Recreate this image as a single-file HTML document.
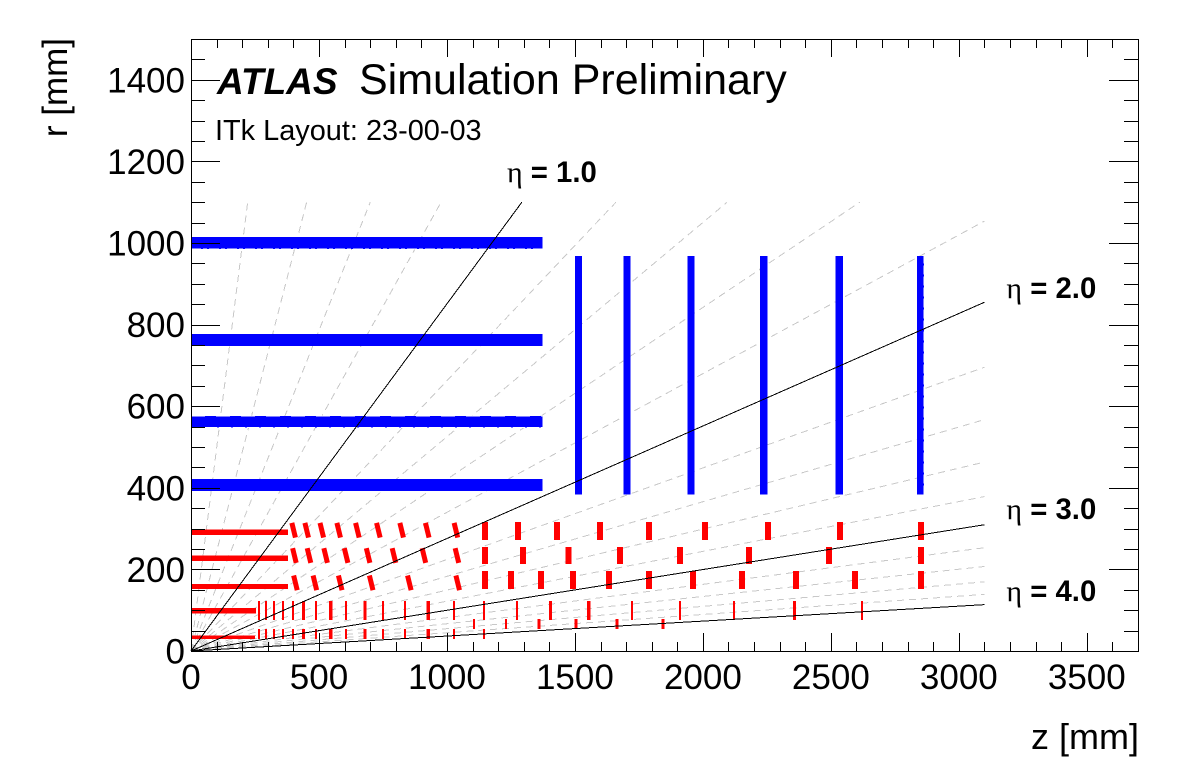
<!DOCTYPE html>
<html lang="en">
<head>
<meta charset="utf-8">
<title>ATLAS ITk Layout</title>
<style>
html,body{margin:0;padding:0;background:#fff;}
body{width:1198px;height:776px;overflow:hidden;}
svg{display:block;font-family:"Liberation Sans",sans-serif;}
</style>
</head>
<body>
<svg id="chart" xmlns="http://www.w3.org/2000/svg" width="1198" height="776" viewBox="0 0 1198 776">
  <rect x="0" y="0" width="1198" height="776" fill="#fff"/>
  <g id="guides"></g>
  <g id="blue"></g>
  <g id="red"></g>
  <g id="eta"></g>
  <g id="axes"></g>
  <text x="217" y="94" font-size="37" font-weight="bold" font-style="italic">ATLAS</text>
  <text x="359" y="94" font-size="43">Simulation Preliminary</text>
  <text x="215" y="140" font-size="28.9">ITk Layout: 23-00-03</text>
  <text x="1139" y="749" font-size="36" text-anchor="end">z [mm]</text>
  <text transform="translate(67,38) rotate(-90)" font-size="35" text-anchor="end">r [mm]</text>
</svg>
<script>
// Axis ranges and ticks
const xRange = [0, 3700];
const yRange = [0, 1500];
const xTickLabels = [0, 500, 1000, 1500, 2000, 2500, 3000, 3500];
const yTickLabels = [0, 200, 400, 600, 800, 1000, 1200, 1400];

// Pseudorapidity lines
const etaMajor = [1.0, 2.0, 3.0, 4.0];
const etaMinor = [0.2, 0.4, 0.6, 0.8, 1.2, 1.4, 1.6, 1.8, 2.2, 2.4, 2.6, 2.8, 3.2, 3.4, 3.6, 3.8];

// Outer tracker (blue): barrel radii and endcap disc positions
const stripBarrelRadii = [407, 562, 762, 1000];
const stripBarrelLength = [1373];
const stripDiscZ = [1514, 1703, 1953, 2238, 2533, 2850];
const stripDiscRange = [383, 968];

// Inner tracker (red): barrel layers (radius, length, thickness in mm)
const pixelBarrelRadii = [34, 99, 158, 227, 291];
const pixelBarrelLengths = [250, 254, 379, 379, 379];
const pixelBarrelThickness = [8, 13, 13, 13, 13];

// Inclined rings
const tiltRadii = [296, 234, 167];
const tiltRow1Z = [401, 452, 511, 577, 650, 732, 823, 923, 1035];
const tiltRow2Z = [404, 461, 526, 606, 692, 793, 910, 1039];
const tiltRow3Z = [408, 484, 583, 704, 853, 1042];

// Outer flat rings
const ringOuterRadii = [294, 234, 174];
const ringOuter1Z = [1149, 1278, 1430, 1598, 1789, 2008, 2254, 2536, 2852];
const ringOuter2Z = [1149, 1297, 1475, 1676, 1910, 2180, 2493, 2852];
const ringOuter3Z = [1149, 1250, 1367, 1492, 1633, 1789, 1961, 2153, 2364, 2594, 2852];

// Inner flat rings
const ringARadius = [99];
const ringAThinZ = [265, 293, 324, 359, 399, 488, 606, 750, 836, 1028, 1145, 1274, 1723, 1911, 2122, 2622];
const ringAThickZ = [440, 546, 679, 927, 1405, 1554, 2358];
const ringBRadius = [42];
const ringBThinZ = [265, 293, 324, 359, 399, 488, 606, 750, 836, 1028, 1145];
const ringBThickZ = [440, 546, 679, 927];
const ringCRadius = [66];
const ringCThinZ = [1106, 1231];
const ringCThickZ = [1360, 1504, 1664, 1844];

// Eta labels
const etaLabelText = ["1.0", "2.0", "3.0", "4.0"];

const X0 = 191, X1 = 1138, Y0 = 651, Y1 = 39;
function xScale(z) { return X0 + (z - xRange[0]) / (xRange[1] - xRange[0]) * (X1 - X0); }
function yScale(r) { return Y0 - (r - yRange[0]) / (yRange[1] - yRange[0]) * (Y0 - Y1); }

const NS = "http://www.w3.org/2000/svg";
function mk(tag, parentId, attrs) {
  const el = document.createElementNS(NS, tag);
  for (const k in attrs) el.setAttribute(k, attrs[k]);
  document.getElementById(parentId).appendChild(el);
  return el;
}

// Guides
function drawEtaLine(parent, eta, stroke, dash, name) {
  const slope = 1 / Math.sinh(eta);
  let z = 3100, r = z * slope;
  if (r > 1100) { r = 1100; z = r / slope; }
  const el = mk("line", parent, {
    x1: xScale(0), y1: yScale(0), x2: xScale(z), y2: yScale(r),
    stroke: stroke, "stroke-width": 1, "shape-rendering": "crispEdges"
  });
  if (dash) el.setAttribute("stroke-dasharray", dash);
  
  
}
etaMinor.forEach(function (e) {
  drawEtaLine("guides", e, "#c8c8c8", "7 5", "eta-guide-line");
});

// Rect helper in pixel space from data extents
function dataRect(parent, z0, z1, r0, r1, fill, name) {
  const x0 = xScale(z0), x1 = xScale(z1), y0 = yScale(r1), y1 = yScale(r0);
  const el = mk("rect", parent, {
    x: x0, y: y0, width: x1 - x0, height: y1 - y0, fill: fill, "shape-rendering": "crispEdges"
  });
  
  
}
const BLUE = "#0000ff", RED = "#ff0000";

// Rough module edges along a barrel or disc
function roughEdge(z0, r0, z1, r1, width, dash, color) {
  const el = mk("line", "blue", {
    x1: xScale(z0), y1: yScale(r0), x2: xScale(z1), y2: yScale(r1),
    stroke: color, "stroke-width": width, "stroke-dasharray": dash, "shape-rendering": "crispEdges"
  });
  
  
}

stripBarrelRadii.forEach(function (r) {
  dataRect("blue", 0, stripBarrelLength[0], r - 14.5, r + 14.5, BLUE, "strip-barrel-layer");
});
stripDiscZ.forEach(function (z) {
  dataRect("blue", z - 14, z + 14, stripDiscRange[0], stripDiscRange[1], BLUE, "strip-endcap-disc");
});
roughEdge(0, stripBarrelRadii[3] - 14.5, stripBarrelLength[0], stripBarrelRadii[3] - 14.5, 1, "10 2 4 2", "#fff");
roughEdge(0, stripBarrelRadii[1] + 14.5, stripBarrelLength[0], stripBarrelRadii[1] + 14.5, 1, "14 11", "#fff");
roughEdge(0, stripBarrelRadii[1] - 14.5, stripBarrelLength[0], stripBarrelRadii[1] - 14.5, 1, "12 2", "#fff");
roughEdge(stripDiscZ[5] + 13, stripDiscRange[0], stripDiscZ[5] + 13, stripDiscRange[1], 1, "9 2", "#fff");

pixelBarrelRadii.forEach(function (r, i) {
  const h = pixelBarrelThickness[i] / 2;
  dataRect("red", 0, pixelBarrelLengths[i], r - h, r + h, RED, "pixel-barrel-layer");
});

function drawTilted(zs, r) {
  zs.forEach(function (z) {
    const el = mk("line", "red", {
      x1: xScale(z - 7), y1: yScale(r + 18), x2: xScale(z + 7), y2: yScale(r - 18),
      stroke: RED, "stroke-width": 5
    });
    
    
  });
}
drawTilted(tiltRow1Z, tiltRadii[0]);
drawTilted(tiltRow2Z, tiltRadii[1]);
drawTilted(tiltRow3Z, tiltRadii[2]);

function drawRings(zs, r, halfR, halfZ) {
  zs.forEach(function (z) {
    dataRect("red", z - halfZ, z + halfZ, r - halfR, r + halfR, RED, "pixel-ring-module");
  });
}
drawRings(ringOuter1Z, ringOuterRadii[0], 22, 11.7);
drawRings(ringOuter2Z, ringOuterRadii[1], 21, 11.7);
drawRings(ringOuter3Z, ringOuterRadii[2], 22, 11.7);
drawRings(ringAThinZ, ringARadius[0], 23.5, 4);
drawRings(ringAThickZ, ringARadius[0], 23.5, 6);
drawRings(ringBThinZ, ringBRadius[0], 12, 4);
drawRings(ringBThickZ, ringBRadius[0], 12, 6);
drawRings(ringCThinZ, ringCRadius[0], 12, 4);
drawRings(ringCThickZ, ringCRadius[0], 12, 6);

// Black eta lines
etaMajor.forEach(function (e) {
  drawEtaLine("eta", e, "#000", null, "eta-line");
});

// Axes
const frame = mk("rect", "axes", {
  x: X0 + 0.5, y: Y1 + 0.5, width: X1 - X0, height: Y0 - Y1,
  fill: "none", stroke: "#000", "stroke-width": 1, "shape-rendering": "crispEdges"
});



function tick(x1, y1, x2, y2, name) {
  const el = mk("line", "axes", {
    x1: x1, y1: y1, x2: x2, y2: y2, stroke: "#000", "stroke-width": 1, "shape-rendering": "crispEdges"
  });
  
  
}
for (let z = 100; z < xRange[1]; z += 100) {
  const len = z % 500 === 0 ? 18 : 9;
  const px = Math.round(xScale(z)) + 0.5;
  tick(px, Y0, px, Y0 - len, "x-axis-tick");
  tick(px, Y1, px, Y1 + len, "x-axis-top-tick");
}
for (let r = 50; r < yRange[1]; r += 50) {
  const major = r % 200 === 0;
  const len = major ? 29 : 14;
  const py = Math.round(yScale(r)) + 0.5;
  tick(X0, py, X0 + len, py, "y-axis-tick");
  tick(X1, py, X1 - len, py, "y-axis-right-tick");
}
xTickLabels.forEach(function (v) {
  const t = mk("text", "axes", { x: xScale(v), y: 689, "font-size": 35, "text-anchor": "middle" });
  t.textContent = String(v);
  
  
});
yTickLabels.forEach(function (v) {
  const t = mk("text", "axes", { x: 185, y: yScale(v) + 12.5, "font-size": 35, "text-anchor": "end" });
  t.textContent = String(v);
  
  
});

// Eta labels, anchored near the line ends
function etaLabel(text, px, py) {
  const t = mk("text", "axes", { x: px, y: py, "font-size": 29.3, "font-weight": "bold" });
  const a = document.createElementNS(NS, "tspan");
  a.setAttribute("font-family", '"Liberation Serif", serif');
  a.setAttribute("font-weight", "normal");
  a.setAttribute("font-size", "30");
  a.textContent = "\u03B7";
  t.appendChild(a);
  const b = document.createElementNS(NS, "tspan");
  b.textContent = " = " + text;
  t.appendChild(b);
  
  
}
etaLabel(etaLabelText[0], xScale(1293) - 15, yScale(1100) - 20);
etaLabel(etaLabelText[1], xScale(3100) + 22, 298);
etaLabel(etaLabelText[2], xScale(3100) + 22, 519);
etaLabel(etaLabelText[3], xScale(3100) + 22, 601);
</script>
</body>
</html>
